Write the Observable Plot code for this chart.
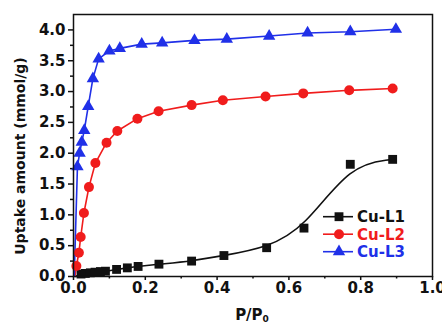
<!DOCTYPE html>
<html><head><meta charset="utf-8">
<script src="https://cdn.jsdelivr.net/npm/d3@7"></script>
<script src="https://cdn.jsdelivr.net/npm/@observablehq/plot@0.6"></script>
<style>
body{margin:0;background:#fff;}
#wrap{position:relative;width:442px;height:326px;overflow:hidden;}
</style>
</head><body><div id="wrap"></div>
<script>
const seriesNames = ["Cu-L1", "Cu-L2", "Cu-L3"];
const seriesColors = ["#111111", "#f01c1c", "#2030e8"];
const seriesSymbols = ["square", "circle", "triangle"];
const cuL1 = [[0.006,0.0],[0.021,0.04],[0.033,0.05],[0.047,0.06],[0.060,0.07],[0.075,0.08],[0.089,0.086],[0.120,0.115],[0.150,0.14],[0.180,0.163],[0.238,0.20],[0.329,0.25],[0.419,0.34],[0.538,0.467],[0.642,0.785],[0.771,1.82],[0.889,1.90]];
const cuL2 = [[0.004,0.0],[0.008,0.17],[0.015,0.385],[0.020,0.64],[0.029,1.03],[0.043,1.45],[0.061,1.84],[0.092,2.17],[0.122,2.36],[0.178,2.56],[0.237,2.68],[0.329,2.78],[0.416,2.86],[0.535,2.92],[0.640,2.97],[0.768,3.02],[0.889,3.05]];
const cuL3 = [[0.002,0.0],[0.011,1.78],[0.017,2.0],[0.023,2.18],[0.030,2.37],[0.041,2.76],[0.054,3.21],[0.070,3.53],[0.100,3.66],[0.129,3.70],[0.190,3.77],[0.247,3.79],[0.337,3.83],[0.427,3.85],[0.545,3.90],[0.652,3.95],[0.771,3.97],[0.898,4.01]];
const xTicks = [0, 0.2, 0.4, 0.6, 0.8, 1.0];
const xMinor = [0.1, 0.3, 0.5, 0.7, 0.9];
const yTicks = [0, 0.5, 1.0, 1.5, 2.0, 2.5, 3.0, 3.5, 4.0];
const yMinor = [0.25, 0.75, 1.25, 1.75, 2.25, 2.75, 3.25, 3.75];
const xLabel = "P/P";
const xLabelSub = "0";
const yLabel = "Uptake amount (mmol/g)";

const allSeries = [cuL1, cuL2, cuL3].map((pts, i) => pts.map(([x, y]) => ({x, y, s: seriesNames[i]})));
const curves = ["basis", "linear", "linear"];
const radii = [5, 5, 4.6];

const marks = [];
allSeries.forEach((d, i) => {
  marks.push(Plot.line(d, {x: "x", y: "y", stroke: seriesColors[i], strokeWidth: 1.6, curve: curves[i]}));
});
allSeries.forEach((d, i) => {
  marks.push(Plot.dot(d.filter(p => p.y > 0.01), {x: "x", y: "y", symbol: () => seriesSymbols[i], r: radii[i], fill: seriesColors[i], stroke: "none"}));
});

const plot = Plot.plot({
  width: 442, height: 326,
  marginLeft: 73, marginRight: 10, marginTop: 14, marginBottom: 50,
  style: {fontFamily: "DejaVu Sans", fontWeight: "bold", fontSize: "15px", color: "#111", background: "#fff"},
  symbol: {type: "identity"},
  x: {domain: [0, 1]},
  y: {domain: [0, 4.25]},
  marks: [
    Plot.axisX({ticks: xTicks, tickFormat: d3.format(".1f"), tickSize: 4, tickPadding: 1.5, label: null, strokeWidth: 1.5}),
    Plot.axisX({ticks: xMinor, tickSize: 2.5, text: null, label: null, strokeWidth: 1.5}),
    Plot.axisY({ticks: yTicks, tickFormat: d3.format(".1f"), tickSize: 5, tickPadding: 3, label: null, strokeWidth: 1.5}),
    Plot.axisY({ticks: yMinor, tickSize: 3, text: null, label: null, strokeWidth: 1.5}),
    ...marks,
    Plot.frame({stroke: "#111", strokeWidth: 1.5})
  ]
});
document.getElementById("wrap").appendChild(plot);

const svg = d3.select(plot);
// axis titles
svg.append("text")
  .attr("transform", "translate(25,156) rotate(-90)")
  .attr("text-anchor", "middle")
  .attr("font-size", 14).attr("font-weight", "bold").attr("fill", "#111")
  .text(yLabel);
const xt = svg.append("text")
  .attr("x", 252).attr("y", 320)
  .attr("text-anchor", "middle")
  .attr("font-size", 15).attr("font-weight", "bold").attr("fill", "#111");
xt.append("tspan").text(xLabel);
xt.append("tspan").attr("font-size", 9).attr("dy", 2).text(xLabelSub);

// legend
const lg = svg.append("g").attr("text-anchor", "start");
seriesNames.forEach((name, i) => {
  const y = 216.7 + i * 17.5;
  lg.append("line").attr("x1", 323).attr("x2", 353).attr("y1", y).attr("y2", y)
    .attr("stroke", seriesColors[i]).attr("stroke-width", 1.6);
  lg.append("path").attr("transform", `translate(339,${y})`)
    .attr("d", d3.symbol(d3["symbol" + seriesSymbols[i][0].toUpperCase() + seriesSymbols[i].slice(1)], Math.PI * radii[i] * radii[i])())
    .attr("fill", seriesColors[i]);
  lg.append("text").attr("x", 357).attr("y", y + 5.5).attr("text-anchor", "start")
    .attr("font-size", 15).attr("font-weight", "bold").attr("fill", seriesColors[i])
    .text(name);
});
</script></body></html>
